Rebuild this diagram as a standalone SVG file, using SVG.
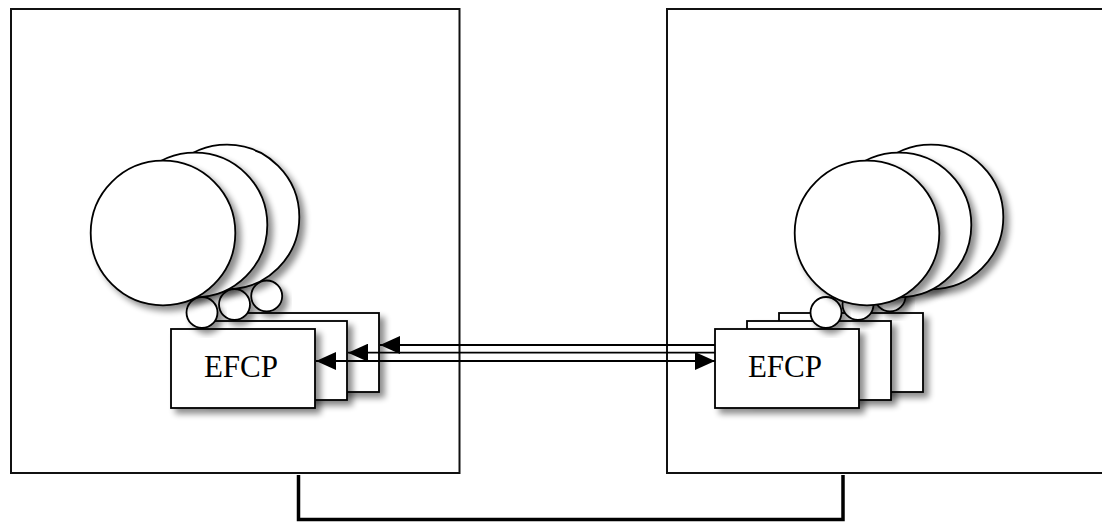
<svg xmlns="http://www.w3.org/2000/svg" width="1102" height="522" viewBox="0 0 1102 522">
<style>
.box{fill:#fff;stroke:#111;stroke-width:2}
.shape{fill:#fff;stroke:#000;stroke-width:1.8;filter:url(#sh)}
.lbl{font-family:"Liberation Serif","Times New Roman",serif;font-size:31px;fill:#000;text-anchor:middle}
.ln{fill:none;stroke:#000;stroke-width:1.8}
</style>
<defs>
<filter id="sh" x="-20%" y="-20%" width="150%" height="150%">
<feGaussianBlur in="SourceAlpha" stdDeviation="3"/>
<feOffset dx="5" dy="5" result="b"/>
<feComponentTransfer><feFuncA type="linear" slope="0.45"/></feComponentTransfer>
<feMerge><feMergeNode/><feMergeNode in="SourceGraphic"/></feMerge>
</filter>
<marker id="ah" viewBox="0 0 20 18" refX="20" refY="9" markerWidth="20" markerHeight="18" markerUnits="userSpaceOnUse" orient="auto-start-reverse">
<path d="M0,0 L20,9 L0,18 Z" fill="#000"/>
</marker>
</defs>
<rect width="1102" height="522" fill="#fff"/>
<g id="system-left"><rect class="box" x="11" y="9" width="448.5" height="464"/></g>
<g id="system-right"><rect class="box" x="667" y="9" width="450" height="464"/></g>
<g id="left-stack">
<rect class="shape" x="235" y="313" width="144" height="79"/>
<circle class="shape" cx="266.7" cy="296" r="15.5"/>
<rect class="shape" x="203" y="321" width="144" height="79"/>
<circle class="shape" cx="234.5" cy="304.5" r="15.5"/>
<rect class="shape" x="171" y="329" width="144" height="79"/>
<circle class="shape" cx="202" cy="312.5" r="15.5"/>
<circle class="shape" cx="227" cy="217" r="72.3"/>
<circle class="shape" cx="195" cy="225" r="72.3"/>
<circle class="shape" cx="163" cy="233" r="72.3"/>
<text class="lbl" x="241" y="377">EFCP</text>
</g>
<g id="right-stack">
<rect class="shape" x="779" y="313" width="144" height="79"/>
<circle class="shape" cx="890" cy="296" r="15.5"/>
<rect class="shape" x="747" y="321" width="144" height="79"/>
<circle class="shape" cx="858" cy="304.5" r="15.5"/>
<rect class="shape" x="715" y="329" width="144" height="79"/>
<circle class="shape" cx="826" cy="312.5" r="15.5"/>
<circle class="shape" cx="931" cy="217" r="72.3"/>
<circle class="shape" cx="899" cy="225" r="72.3"/>
<circle class="shape" cx="867" cy="233" r="72.3"/>
<text class="lbl" x="785" y="377">EFCP</text>
</g>
<g id="connectors">
<line class="ln" x1="715" y1="345" x2="380" y2="345" marker-end="url(#ah)"/>
<line class="ln" x1="715" y1="352.7" x2="348" y2="352.7" marker-end="url(#ah)"/>
<line class="ln" x1="316" y1="361" x2="715" y2="361" marker-start="url(#ah)" marker-end="url(#ah)"/>
<path d="M298.5,475 V519.5 H843 V475" fill="none" stroke="#000" stroke-width="3.5"/>
</g>
</svg>
